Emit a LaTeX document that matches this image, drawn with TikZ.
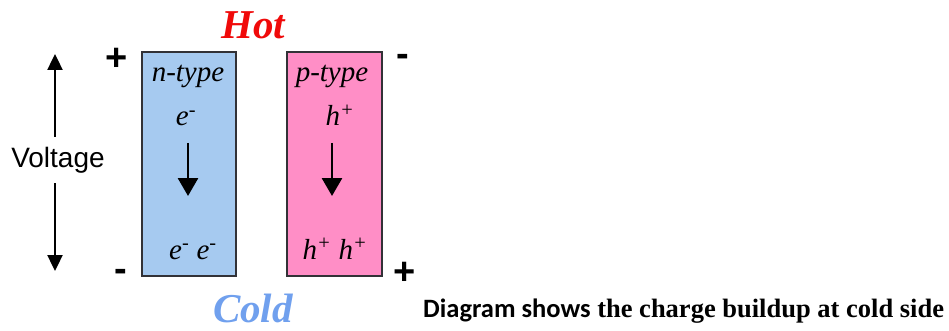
\documentclass[tikz,border=0pt]{standalone}
\usepackage{fontspec}
\setmainfont{Liberation Serif}
\newfontfamily\arialf{Liberation Sans}
\newfontfamily\carlitof{Carlito}
\usetikzlibrary{arrows.meta}
\definecolor{nblue}{RGB}{166,202,240}
\definecolor{ppink}{RGB}{255,142,198}
\definecolor{hotred}{RGB}{240,10,10}
\definecolor{coldblue}{RGB}{112,160,238}
\definecolor{boxline}{RGB}{50,50,55}
\tikzset{
  legbox/.style={draw=boxline, line width=1.6pt},
  flowarrow/.style={line width=2.8pt, -{Triangle[width=20pt,length=18pt]}},
  varrow/.style={line width=2.4pt, -{Triangle[width=15pt,length=16pt]}},
  itlabel/.style={anchor=base, inner sep=0pt, font=\fontsize{29}{31}\selectfont\itshape},
  sign/.style={inner sep=0pt, font=\arialf\bfseries\fontsize{38}{38}\selectfont},
  endlabel/.style={anchor=base, inner sep=0pt, font=\fontsize{41}{43}\selectfont\bfseries\itshape}
}
\begin{document}
\begin{tikzpicture}[x=1pt,y=-1pt]
\useasboundingbox (0,0) rectangle (949,331);
\fill[white] (0,0) rectangle (949,331);
% boxes
\node[legbox, fill=nblue, minimum width=94pt, minimum height=224pt, inner sep=0pt] (nbox) at (189,164) {};
\node[legbox, fill=ppink, minimum width=95pt, minimum height=224pt, inner sep=0pt] (pbox) at (334.5,164) {};
% Hot / Cold
\node[endlabel, text=hotred] (hot) at (253,39) {Hot};
\node[endlabel, text=coldblue] (cold) at (253,322) {Cold};
% n-type texts
\node[itlabel] (ntype) at (188,82) {n-type};
\node[itlabel] (ne) at (186,126) {e\textsuperscript{-}};
\node[itlabel] (nee) at (193,259) {e\textsuperscript{-} e\textsuperscript{-}};
\coordinate (na1) at (188,143);
\coordinate (na2) at (188,196);
\draw[flowarrow] (na1) -- (na2);
% p-type texts
\node[itlabel] (ptype) at (332,82) {p-type};
\node[itlabel] (ph) at (340,126) {h\textsuperscript{+}};
\node[itlabel] (phh) at (335,259) {h\textsuperscript{+} h\textsuperscript{+}};
\coordinate (pa1) at (332,143);
\coordinate (pa2) at (332,196);
\draw[flowarrow] (pa1) -- (pa2);
% signs
\node[sign] (tlplus) at (117,59) {+};
\node[sign] (blminus) at (121,275) {-};
\node[sign] (trminus) at (403,60) {-};
\node[sign] (brplus) at (405,273) {+};
% voltage
\node[inner sep=0pt, minimum height=46pt, font=\arialf\fontsize{28}{30}\selectfont] (volt) at (58,160) {Voltage};
\coordinate (vt) at (55,54);
\coordinate (vb) at (55,271);
\draw[varrow] (volt.north -| vt) -- (vt);
\draw[varrow] (volt.south -| vb) -- (vb);
% caption
\node[anchor=base west, inner sep=0pt, font=\bfseries\fontsize{26.5}{28}\selectfont] (cap) at (423,317) {{\carlitof Diagram shows} the charge buildup at cold side};
\end{tikzpicture}
\end{document}
